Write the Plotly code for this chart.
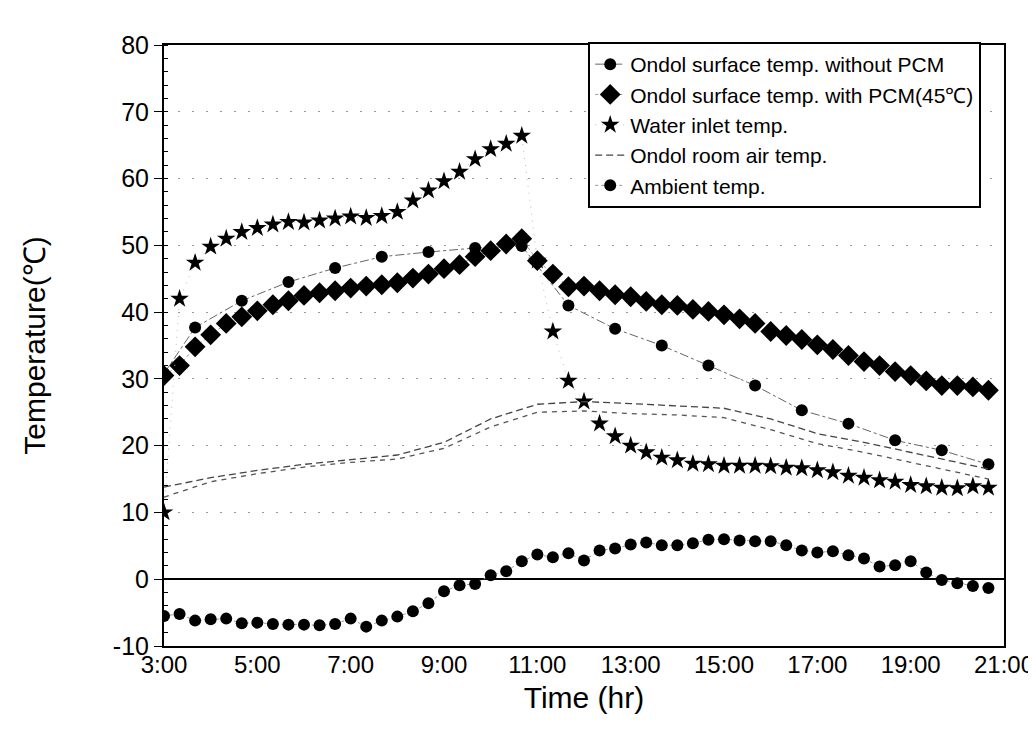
import plotly.graph_objects as go

# ---------------- data ----------------
times_20min = ["3:00","3:20","3:40","4:00","4:20","4:40","5:00","5:20","5:40",
               "6:00","6:20","6:40","7:00","7:20","7:40","8:00","8:20","8:40",
               "9:00","9:20","9:40","10:00","10:20","10:40","11:00","11:20","11:40",
               "12:00","12:20","12:40","13:00","13:20","13:40","14:00","14:20","14:40",
               "15:00","15:20","15:40","16:00","16:20","16:40","17:00","17:20","17:40",
               "18:00","18:20","18:40","19:00","19:20","19:40","20:00","20:20","20:40"]

times_no_pcm = ["3:00","3:40","4:40","5:40","6:40","7:40","8:40","9:40","10:40",
                "11:40","12:40","13:40","14:40","15:40","16:40","17:40","18:40","19:40","20:40"]
surface_no_pcm = [30.8, 37.7, 41.7, 44.5, 46.6, 48.3, 49.0, 49.6, 49.9,
                  41.0, 37.5, 35.0, 32.0, 29.0, 25.3, 23.3, 20.8, 19.3, 17.2]

surface_pcm = [30.5, 32.0, 34.8, 36.6, 38.3, 39.3, 40.2, 41.1, 41.7,
               42.5, 42.9, 43.2, 43.6, 43.9, 44.1, 44.4, 45.1, 45.7,
               46.5, 47.1, 48.3, 49.2, 50.2, 51.0, 47.7, 45.7, 43.8,
               43.9, 43.2, 42.6, 42.3, 41.6, 41.1, 41.0, 40.4, 40.1,
               39.6, 39.0, 38.3, 37.1, 36.5, 35.9, 35.1, 34.4, 33.5,
               32.6, 32.0, 31.1, 30.5, 29.7, 29.0, 29.0, 28.8, 28.3]

water_inlet = [10.0, 42.0, 47.4, 49.8, 51.0, 52.0, 52.6, 53.1, 53.5,
               53.4, 53.7, 54.0, 54.3, 54.1, 54.4, 55.0, 56.7, 58.2,
               59.6, 61.0, 62.9, 64.4, 65.2, 66.4, 47.7, 37.1, 29.7,
               26.6, 23.3, 21.4, 20.0, 19.0, 18.2, 17.8, 17.3, 17.2,
               17.0, 17.0, 17.0, 16.9, 16.7, 16.6, 16.3, 16.0, 15.5,
               15.2, 14.8, 14.6, 14.1, 13.9, 13.7, 13.6, 13.9, 13.7]

ambient = [-5.5, -5.2, -6.2, -6.0, -5.9, -6.6, -6.5, -6.7, -6.8,
           -6.8, -6.9, -6.7, -5.9, -7.1, -6.2, -5.6, -4.8, -3.6,
           -1.8, -0.9, -0.7, 0.6, 1.2, 2.7, 3.7, 3.3, 3.9,
           2.8, 4.3, 4.6, 5.2, 5.5, 5.1, 5.1, 5.4, 5.9,
           6.0, 5.8, 5.7, 5.7, 5.1, 4.3, 4.0, 4.2, 3.6,
           3.1, 1.9, 2.1, 2.7, 1.0, -0.1, -0.6, -1.0, -1.3]

times_room = ["3:00","4:00","5:00","6:00","7:00","8:00","9:00","10:00","11:00","12:00",
              "13:00","14:00","15:00","16:00","17:00","18:00","19:00","20:00","20:40"]
room_air_upper = [13.8, 15.2, 16.3, 17.2, 17.9, 18.6, 20.5, 24.0, 26.2, 26.6,
                  26.3, 26.0, 25.6, 24.0, 21.8, 20.5, 19.0, 17.5, 16.5]
room_air_lower = [12.3, 14.6, 15.8, 16.8, 17.5, 18.0, 19.6, 22.8, 25.0, 25.2,
                  24.8, 24.6, 24.2, 22.4, 20.3, 19.0, 17.5, 16.0, 15.0]

tick_hours = [3, 5, 7, 9, 11, 13, 15, 17, 19, 21]
tick_labels = ["3:00", "5:00", "7:00", "9:00", "11:00", "13:00", "15:00", "17:00", "19:00", "21:00"]
y_ticks = [-10, 0, 10, 20, 30, 40, 50, 60, 70, 80]
y_tick_labels = ["-10", "0", "10", "20", "30", "40", "50", "60", "70", "80"]


def to_hours(labels):
    out = []
    for s in labels:
        h, m = s.split(":")
        out.append(int(h) + int(m) / 60.0)
    return out


x20 = to_hours(times_20min)
x_nopcm = to_hours(times_no_pcm)
x_room = to_hours(times_room)

FONT = "Liberation Sans, Arial, sans-serif"
CONN = "#999"

fig = go.Figure()

fig.add_trace(go.Scatter(
    x=x_nopcm, y=surface_no_pcm, mode="lines+markers",
    name="Ondol surface temp. without PCM",
    line=dict(color="#666", width=1, dash="dashdot"),
    marker=dict(symbol="circle", size=12, color="black"),
))
fig.add_trace(go.Scatter(
    x=x20, y=surface_pcm, mode="lines+markers",
    name="Ondol surface temp. with PCM(45℃)",
    line=dict(color=CONN, width=1, dash="dot"),
    marker=dict(symbol="diamond", size=16, color="black"),
))
fig.add_trace(go.Scatter(
    x=x20, y=water_inlet, mode="lines+markers",
    name="Water inlet temp.",
    line=dict(color="#bbb", width=1, dash="1px,6px"),
    marker=dict(symbol="star", size=14, color="black"),
))
fig.add_trace(go.Scatter(
    x=x_room, y=room_air_upper, mode="lines",
    name="Ondol room air temp.",
    line=dict(color="#444", width=1.3, dash="7px,4px"),
))
fig.add_trace(go.Scatter(
    x=x_room, y=room_air_lower, mode="lines",
    name="Ondol room air temp. (2)", showlegend=False,
    line=dict(color="#555", width=1.3, dash="5px,5px"),
))
fig.add_trace(go.Scatter(
    x=x20, y=ambient, mode="lines+markers",
    name="Ambient temp.",
    line=dict(color=CONN, width=1, dash="dot"),
    marker=dict(symbol="circle", size=12, color="black"),
))

fig.update_layout(
    template="none",
    width=1036, height=732,
    paper_bgcolor="white", plot_bgcolor="white",
    margin=dict(l=156, r=40, t=37, b=94),
    font=dict(family=FONT, size=24, color="black"),
    showlegend=True,
    legend=dict(
        x=0.505, y=1.005, xanchor="left", yanchor="top",
        bgcolor="white", bordercolor="black", borderwidth=2,
        font=dict(family=FONT, size=21, color="black"),
        tracegroupgap=0, itemwidth=30,
    ),
)

fig.update_xaxes(
    range=[3, 21], tickvals=tick_hours, ticktext=tick_labels,
    showline=True, linecolor="black", linewidth=2, mirror=True,
    showgrid=False, zeroline=False, ticks="", automargin=False,
    ticklabeloverflow="allow", ticklabelstandoff=-4,
    tickfont=dict(family=FONT, size=24, color="black"),
    title=dict(text="Time (hr)", font=dict(family=FONT, size=30), standoff=10),
)
fig.update_yaxes(
    range=[-10, 80], tickvals=y_ticks, ticktext=y_tick_labels,
    showline=True, linecolor="black", linewidth=2, mirror=True,
    showgrid=True, gridcolor="#999", gridwidth=1, griddash="2px,12px",
    zeroline=True, zerolinecolor="black", zerolinewidth=2,
    ticks="outside", ticklen=8, tickcolor="black", automargin=False,
    minor=dict(ticks="inside", dtick=2, ticklen=4, tickcolor="black", showgrid=False),
    tickfont=dict(family=FONT, size=25, color="black"),
    title=dict(text="Temperature(℃)", font=dict(family=FONT, size=30), standoff=58),
)

fig.write_html("out.html")
